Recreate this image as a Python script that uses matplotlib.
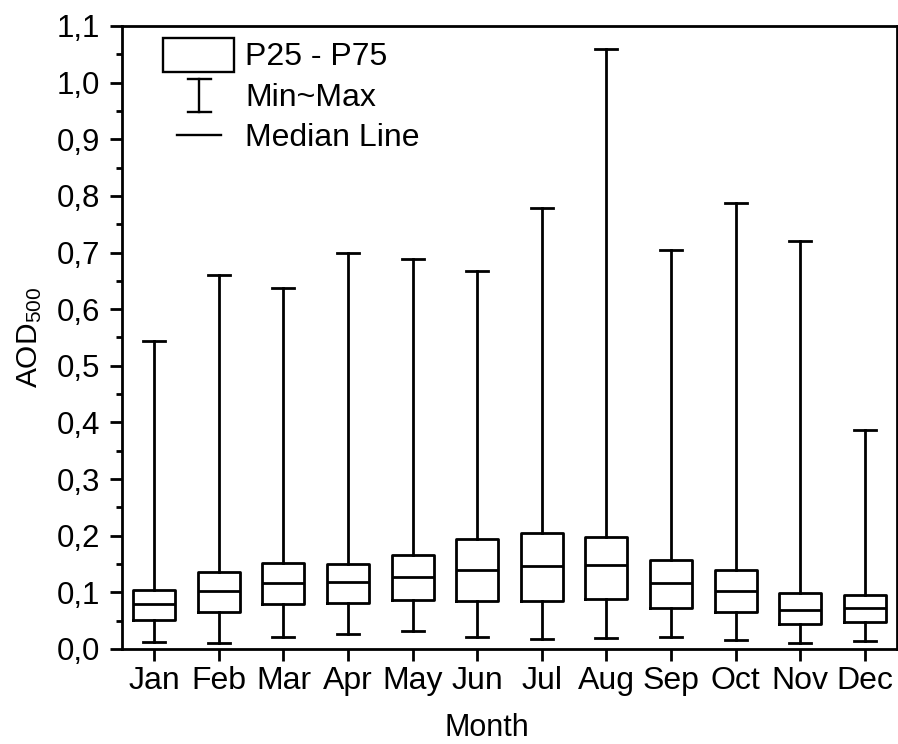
import matplotlib
matplotlib.use("Agg")
import matplotlib.pyplot as plt
from matplotlib.ticker import MultipleLocator, FuncFormatter
from matplotlib.patches import Rectangle
from matplotlib.lines import Line2D

months = ["Jan", "Feb", "Mar", "Apr", "May", "Jun", "Jul", "Aug", "Sep", "Oct", "Nov", "Dec"]
mins = [0.013, 0.011, 0.022, 0.026, 0.032, 0.022, 0.018, 0.020, 0.022, 0.016, 0.011, 0.015]
p25 = [0.052, 0.065, 0.079, 0.082, 0.086, 0.084, 0.085, 0.089, 0.072, 0.065, 0.045, 0.048]
medians = [0.079, 0.102, 0.117, 0.119, 0.128, 0.139, 0.147, 0.148, 0.116, 0.103, 0.069, 0.073]
p75 = [0.105, 0.136, 0.151, 0.150, 0.166, 0.194, 0.205, 0.198, 0.157, 0.140, 0.098, 0.096]
maxs = [0.543, 0.660, 0.637, 0.699, 0.689, 0.667, 0.779, 1.059, 0.704, 0.787, 0.720, 0.387]

plt.rcParams["font.family"] = ["Liberation Sans", "DejaVu Sans"]
plt.rcParams["mathtext.fontset"] = "custom"
plt.rcParams["mathtext.rm"] = "Liberation Sans"
plt.rcParams["mathtext.it"] = "Liberation Sans:italic"
plt.rcParams["mathtext.bf"] = "Liberation Sans:bold"

LW = 2.0

fig = plt.figure(figsize=(8.98, 7.44), dpi=100)
ax = fig.add_axes([122 / 898, 95 / 744, 775 / 898, 623 / 744])

stats = []
for i, m in enumerate(months):
    stats.append(dict(label=m, whislo=mins[i], q1=p25[i], med=medians[i],
                      q3=p75[i], whishi=maxs[i]))

positions = list(range(1, len(months) + 1))
ax.bxp(stats, positions=positions, widths=0.65, showfliers=False,
       boxprops=dict(color="black", linewidth=LW),
       whiskerprops=dict(color="black", linewidth=LW),
       capprops=dict(color="black", linewidth=LW),
       medianprops=dict(color="black", linewidth=LW),
       capwidths=0.34)

ax.set_xlim(0.5, 12.5)
ax.set_ylim(0.0, 1.1)
ax.set_xticks(positions)
ax.set_xticklabels(months)
ax.yaxis.set_major_locator(MultipleLocator(0.1))
ax.yaxis.set_minor_locator(MultipleLocator(0.05))
ax.yaxis.set_major_formatter(FuncFormatter(lambda v, p: f"{v:.1f}".replace(".", ",")))

for s in ax.spines.values():
    s.set_linewidth(LW)

ax.tick_params(axis="both", which="major", direction="out", length=8.5, width=LW,
               top=False, right=False)
ax.tick_params(axis="x", pad=4, labelsize=23)
ax.tick_params(axis="y", pad=7, labelsize=22.5)
ax.tick_params(axis="y", which="minor", direction="out", length=4.5, width=LW, right=False)
ax.tick_params(axis="x", which="minor", bottom=False)

ax.set_xlabel("Month", fontsize=22)
ax.xaxis.set_label_coords(0.471, -0.102)
ax.set_ylabel(r"AOD$_{\mathregular{500}}$", fontsize=21.5)
ax.yaxis.set_label_coords(-0.100, 0.5)

# legend drawn in axes coordinates
FL = 23
LL = 1.7
T = ax.transAxes
ax.add_patch(Rectangle((0.0529, 0.9266), 0.0916, 0.0546, transform=T,
                       facecolor="white", edgecolor="black", linewidth=LL, clip_on=False))
ax.text(0.1587, 0.9373, "P25 - P75", transform=T, fontsize=FL, va="baseline", ha="left")
xc = 0.0994
hw = 0.0148
ax.add_line(Line2D([xc, xc], [0.8624, 0.9154], transform=T, color="black", linewidth=LL))
ax.add_line(Line2D([xc - hw, xc + hw], [0.9154, 0.9154], transform=T, color="black", linewidth=LL))
ax.add_line(Line2D([xc - hw, xc + hw], [0.8624, 0.8624], transform=T, color="black", linewidth=LL))
ax.text(0.1587, 0.8716, "Min~Max", transform=T, fontsize=FL, va="baseline", ha="left")
ax.add_line(Line2D([0.071, 0.1274], [0.825, 0.825], transform=T, color="black", linewidth=LL))
ax.text(0.1587, 0.8074, "Median Line", transform=T, fontsize=FL, va="baseline", ha="left")

fig.savefig("out.png", dpi=100, facecolor="white")
